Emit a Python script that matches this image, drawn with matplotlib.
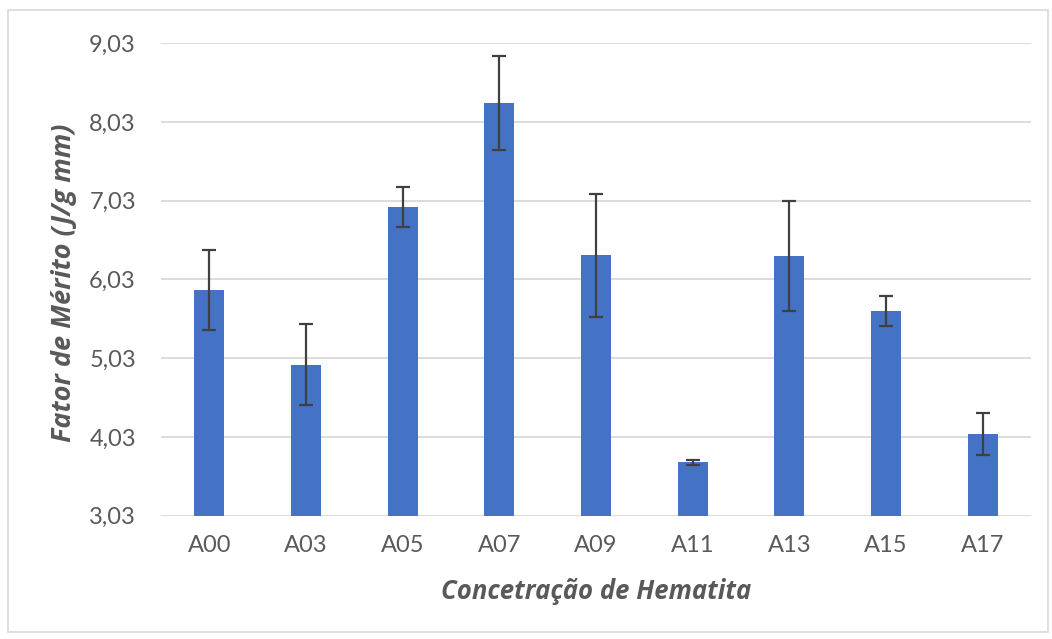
import matplotlib
matplotlib.use("Agg")
import matplotlib.pyplot as plt
from matplotlib.patches import Rectangle
from matplotlib.ticker import FixedLocator, FuncFormatter

categories = ["A00", "A03", "A05", "A07", "A09", "A11", "A13", "A15", "A17"]
values = [5.90, 4.95, 6.95, 8.27, 6.34, 3.71, 6.33, 5.63, 4.07]
errors = [0.51, 0.51, 0.25, 0.60, 0.78, 0.03, 0.70, 0.19, 0.27]
yticks = [3.03, 4.03, 5.03, 6.03, 7.03, 8.03, 9.03]

plt.rcParams['font.family'] = ['Lato', 'DejaVu Sans']

fig = plt.figure(figsize=(10.52, 6.39), dpi=100)
fig.patches.append(Rectangle((8/1052, 1-632/639), 1040/1052, 622/639,
                             transform=fig.transFigure, fill=False,
                             edgecolor='#D9D9D9', linewidth=1.2))
ax = fig.add_axes([161/1052, 1-515.7/639, (1031-161)/1052, (515.7-43.3)/639])

x = range(len(categories))
ax.bar(x, values, width=0.31, color='#4472C4', zorder=3)
ax.errorbar(x, values, yerr=errors, fmt='none', ecolor='#404040',
            elinewidth=1.6, capsize=5, capthick=1.6, zorder=4)

ax.set_ylim(3.03, 9.03)
ax.set_xlim(-0.5, len(categories) - 0.5)
ax.yaxis.set_major_locator(FixedLocator(yticks))
ax.yaxis.set_major_formatter(FuncFormatter(lambda v, p: f"{v:.2f}".replace('.', ',')))
ax.set_xticks(list(x))
ax.set_xticklabels(categories)
ax.grid(axis='y', color='#D9D9D9', linewidth=1.3, zorder=0)
for s in ax.spines.values():
    s.set_visible(False)
ax.tick_params(length=0, labelsize=17, colors='#595959')
ax.tick_params(axis='y', pad=18)
ax.tick_params(axis='x', pad=14)

ax.set_ylabel("Fator de Mérito (J/g mm)", fontsize=19.5, fontweight='bold',
              fontstyle='italic', color='#595959',
              family=['Open Sans', 'DejaVu Sans'])
ax.yaxis.set_label_coords(-0.0966, 0.493)
ax.set_xlabel("Concetração de Hematita", fontsize=18.5, fontweight='bold',
              fontstyle='italic', color='#595959', labelpad=16,
              family=['Open Sans', 'DejaVu Sans'])

fig.savefig("out.png", dpi=100)
